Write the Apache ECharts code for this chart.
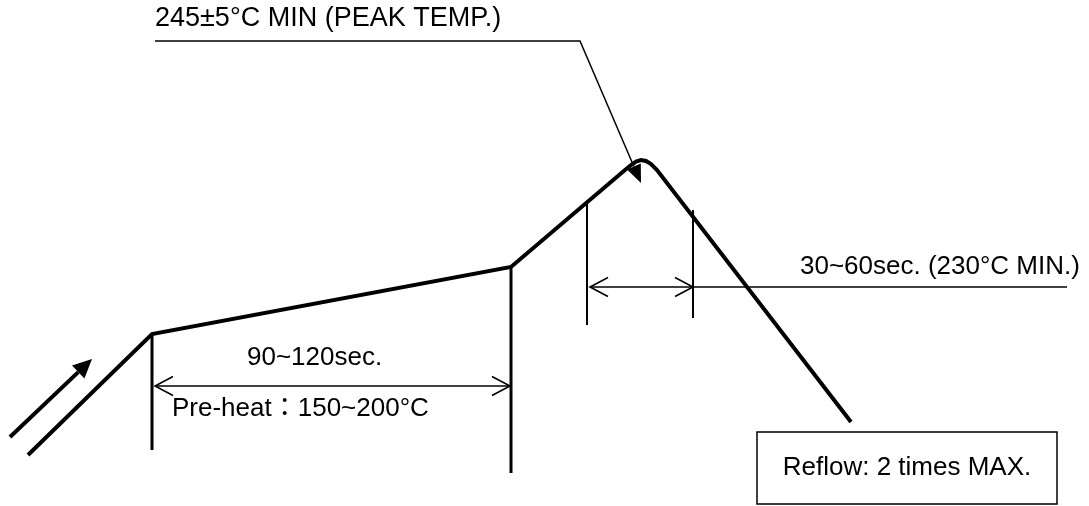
<!DOCTYPE html>
<html>
<head>
<meta charset="utf-8">
<title>Reflow profile</title>
<script src="https://cdn.jsdelivr.net/npm/echarts@6/dist/echarts.min.js"></script>
<style>
html,body{margin:0;padding:0;background:#fff;}
#chart{width:1089px;height:506px;}
</style>
</head>
<body>
<div id="chart"></div>
<script>
// drawing frame units, y grows downward
var profileX = [28, 152, 511, 625, 631, 636, 641, 646, 651, 657, 851];
var profileY = [455, 334, 267, 170, 165, 161.5, 160, 161, 164, 170, 422];

// vertical markers at the phase limits
var markerX = [152, 511, 587, 693];
var markerTop = [334, 267, 202, 210];
var markerBottom = [450, 473, 325, 318];
var markerWidth = [3, 3, 2, 2];

// <----> dimension arrows
var dimStart = [155, 590];
var dimEnd = [510, 693];
var dimY = [386, 287];

// leader from the peak label
var calloutX = [155, 580, 641];
var calloutY = [41, 41, 183];

// leader from the 30~60 window to its label
var windowX = [693, 1067];
var windowY = [287, 287];

// heating direction arrow
var flowX = [10, 92];
var flowY = [437, 359];

var labels = ['245±5°C MIN (PEAK TEMP.)', '30~60sec. (230°C MIN.)', '90~120sec.',
              'Pre-heat：150~200°C', 'Reflow: 2 times MAX.'];

var FAMILY = '"Liberation Sans", Arial, "Noto Sans CJK TC", sans-serif';
var FONT = '26px ' + FAMILY;

function head(tip, from, len, half) {
  var dx = tip[0] - from[0], dy = tip[1] - from[1];
  var d = Math.sqrt(dx * dx + dy * dy);
  dx /= d; dy /= d;
  var bx = tip[0] - dx * len, by = tip[1] - dy * len;
  return [[bx - dy * half, by + dx * half], tip, [bx + dy * half, by - dx * half], [bx, by]];
}

// polyline through xs/ys, optional filled arrowhead at the last point
function pathSeries(xs, ys, width, arrow) {
  return {
    type: 'custom',
    clip: false,
    data: xs.map(function (x, i) { return [x, ys[i]]; }),
    renderItem: function (params, api) {
      if (params.dataIndex !== 0) return;
      var pts = xs.map(function (x, i) { return api.coord([x, ys[i]]); });
      var kids = [];
      if (arrow) {
        var h = head(pts[pts.length - 1], pts[pts.length - 2], arrow[0], arrow[1]);
        pts[pts.length - 1] = h[3];
        kids.push({ type: 'polygon', shape: { points: h.slice(0, 3) }, style: { fill: '#000' } });
      }
      kids.unshift({ type: 'polyline', shape: { points: pts },
        style: { stroke: '#000', lineWidth: width, fill: null } });
      return { type: 'group', children: kids };
    }
  };
}

var chart = echarts.init(document.getElementById('chart'));
var option = {
  animation: false,
  backgroundColor: '#fff',
  grid: { left: 0, right: 0, top: 0, bottom: 0 },
  xAxis: { type: 'value', min: 0, max: 1089, show: false },
  yAxis: { type: 'value', min: 0, max: 506, inverse: true, show: false },
  series: [
    {
      type: 'line',
      data: profileX.map(function (x, i) { return [x, profileY[i]]; }),
      symbol: 'none',
      lineStyle: { color: '#000', width: 4, join: 'miter' }
    },
    {
      type: 'custom',
      clip: false,
      data: markerX.map(function (x, i) { return [x, markerTop[i], markerBottom[i]]; }),
      renderItem: function (params, api) {
        var a = api.coord([api.value(0), api.value(1)]);
        var b = api.coord([api.value(0), api.value(2)]);
        return { type: 'line', shape: { x1: a[0], y1: a[1], x2: b[0], y2: b[1] },
          style: { stroke: '#000', lineWidth: markerWidth[params.dataIndex] } };
      }
    },
    {
      type: 'custom',
      clip: false,
      data: dimY.map(function (y, i) { return [dimStart[i], y, dimEnd[i]]; }),
      renderItem: function (params, api) {
        var a = api.coord([api.value(0), api.value(1)]);
        var b = api.coord([api.value(2), api.value(1)]);
        var ha = head(a, b, 18, 9.5), hb = head(b, a, 18, 9.5);
        var st = { stroke: '#000', lineWidth: 1.6, fill: null };
        return { type: 'group', children: [
          { type: 'line', shape: { x1: a[0], y1: a[1], x2: b[0], y2: b[1] }, style: st },
          { type: 'polyline', shape: { points: ha.slice(0, 3) }, style: st },
          { type: 'polyline', shape: { points: hb.slice(0, 3) }, style: st }
        ] };
      }
    },
    pathSeries(calloutX, calloutY, 1.5, [18, 7.5]),
    pathSeries(windowX, windowY, 1.6, null),
    pathSeries(flowX, flowY, 4, [19, 9])
  ],
  graphic: [
    { type: 'rect', shape: { x: 757, y: 432, width: 300, height: 72 },
      style: { fill: '#fff', stroke: '#000', lineWidth: 1.5 } },
    { type: 'text', x: 155, y: 19, style: { text: labels[0], font: '27px ' + FAMILY, fill: '#000', verticalAlign: 'middle' } },
    { type: 'text', x: 800, y: 267, style: { text: labels[1], font: FONT, fill: '#000', verticalAlign: 'middle' } },
    { type: 'text', x: 247, y: 358, style: { text: labels[2], font: FONT, fill: '#000', verticalAlign: 'middle' } },
    { type: 'text', x: 172, y: 409, style: { text: labels[3], font: FONT, fill: '#000', verticalAlign: 'middle' } },
    { type: 'text', x: 907, y: 468, style: { text: labels[4], font: FONT, fill: '#000', align: 'center', verticalAlign: 'middle' } }
  ]
};
chart.setOption(option);
</script>
</body>
</html>
